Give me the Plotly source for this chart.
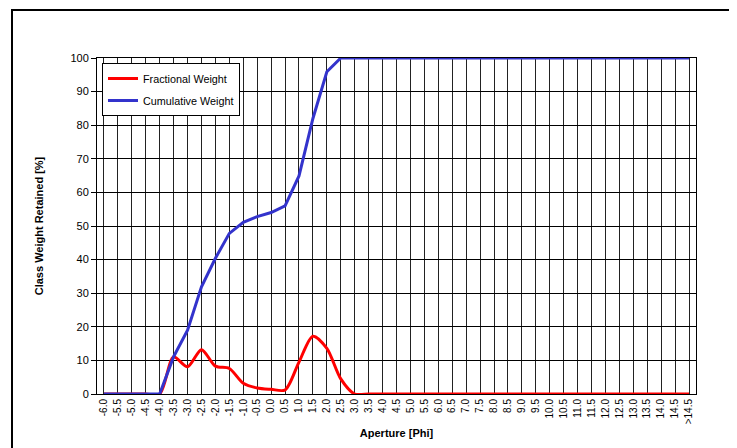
import plotly.graph_objects as go

# Aperture classes (phi), last class is the open-ended one
apertures = [f"{-6.0 + 0.5 * i:.1f}" for i in range(42)] + [">14.5"]

fractional_weight = [
    0, 0, 0, 0, 0,
    11.0, 8.1, 13.2, 8.3, 7.6, 3.2, 1.8, 1.4, 1.2, 9.5, 17.2, 13.6, 4.5,
] + [0] * 25

cumulative_weight = [
    0, 0, 0, 0, 0,
    11.1, 19.0, 31.9, 40.4, 47.8, 51.1, 52.8, 54.0, 56.0, 64.9, 82.0, 95.9, 100,
] + [100] * 25

y_ticks = list(range(0, 101, 10))

# page body adds an 8px margin, so the figure is drawn 8px smaller and offset
OFF = 8
W, H = 737 - OFF, 448 - OFF
ML, MT = 97 - OFF, 58 - OFF
MR = W - (696 - OFF)
MB = H - (394 - OFF)
PW, PH = W - ML - MR, H - MT - MB

FONT = "Arial, Liberation Sans, sans-serif"

fig = go.Figure()
fig.add_trace(go.Scatter(
    x=apertures, y=fractional_weight, name="Fractional Weight",
    mode="lines", line=dict(color="#ff0000", width=3, shape="spline", smoothing=0.8),
    legendgroup="a",
))
fig.add_trace(go.Scatter(
    x=apertures, y=cumulative_weight, name="Cumulative Weight",
    mode="lines", line=dict(color="#3333cc", width=3),
    legendgroup="b",
))

fig.update_layout(
    template="none",
    width=W, height=H,
    margin=dict(l=ML, r=MR, t=MT, b=MB, autoexpand=False),
    paper_bgcolor="white", plot_bgcolor="white",
    font=dict(family=FONT, color="black", size=10),
    showlegend=True,
    legend=dict(
        x=(102 - 97) / PW, y=(394 - 63) / PH, xanchor="left", yanchor="top",
        bgcolor="white", bordercolor="black", borderwidth=1,
        font=dict(size=10.8, family=FONT),
        traceorder="grouped", tracegroupgap=3,
        itemwidth=30,
    ),
    xaxis=dict(
        type="category", categoryorder="array", categoryarray=apertures,
        range=[-0.5, 42.5],
        tickangle=-90, tickfont=dict(size=10),
        showgrid=True, gridcolor="#222222", gridwidth=1,
        showline=True, linecolor="black", linewidth=1, mirror=True,
        ticks="", zeroline=False, automargin=False,
        title=dict(text="<b>Aperture [Phi]</b>", font=dict(size=11), standoff=5),
    ),
    yaxis=dict(
        range=[0, 100], tickvals=y_ticks,
        tickfont=dict(size=11),
        showgrid=True, gridcolor="black", gridwidth=1,
        showline=True, linecolor="black", linewidth=1, mirror=True,
        ticks="outside", ticklen=5, tickcolor="black",
        zeroline=False, automargin=False,
        title=dict(text="<b>Class Weight Retained [%]</b>", font=dict(size=11), standoff=24),
    ),
    shapes=[dict(
        type="rect", xref="paper", yref="paper",
        x0=(12 - 97) / PW, x1=(737 + 10 - 97) / PW,
        y0=(394 - 460) / PH, y1=(394 - 10) / PH,
        line=dict(color="black", width=2), fillcolor="rgba(0,0,0,0)", layer="below",
    )],
)

fig.write_html("out.html")
